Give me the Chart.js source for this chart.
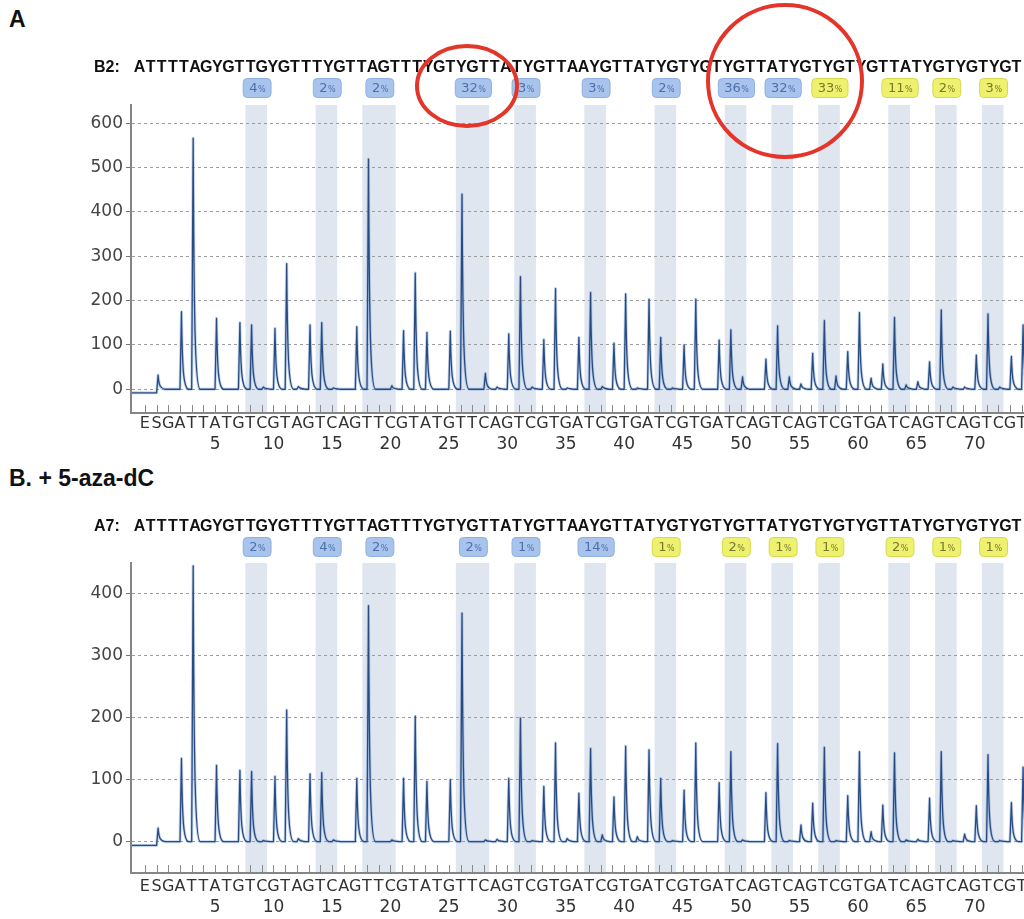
<!DOCTYPE html>
<html>
<head>
<meta charset="utf-8">
<script src="https://cdn.jsdelivr.net/npm/chart.js@4.4.0/dist/chart.umd.min.js"></script>
<style>
  html, body { margin: 0; padding: 0; background: #fff; overflow: hidden; }
  body { width: 1024px; height: 919px; position: relative; }
  .panel-title { position: absolute; left: 9px; font: bold 23px 'Liberation Sans', Arial, sans-serif; color: #111; }
  canvas { position: absolute; left: 0; }
</style>
</head>
<body>
<div class="panel-title" style="top:6px">A</div>
<div class="panel-title" style="top:465px">B. + 5-aza-dC</div>
<canvas id="chartA" width="1060" height="460" style="top:0"></canvas>
<canvas id="chartB" width="1060" height="459" style="top:460px"></canvas>
<script>
// dispensation order (E, S, then nucleotides 1..74)
const DISPENSATION = ('ESGATTATGTCG' + 'TAGTCAGTTCGT' + 'ATGTTCAGTCGT' + 'GATCGTGATCGT' +
  'GATCAGTCAGTC' + 'GTGATCAGTCAG' + 'TCGT').split('');
// sequence to analyze
const SEQUENCE = ['ATTTTAGYG', 'TTGYG', 'TTTYG', 'TTAG', 'TTTYG', 'TYG', 'TTATYG', 'TTAAYG',
  'TTATYG', 'TYGTYG', 'TTATYG', 'TYGTYG', 'TTATYG', 'TYGTYGT'].join('');

// peak height per dispensation
const peaksA = [
  0, 32, 0, 175, 566, 0, 160, 0, 150, 145,
  5, 137, 283, 6, 145, 150, 3, 0, 141, 519,
  0, 8, 132, 262, 128, 0, 131, 440, 0, 36,
  5, 125, 254, 5, 112, 227, 3, 117, 218, 6,
  104, 215, 3, 203, 117, 3, 100, 203, 0, 111,
  134, 28, 0, 68, 143, 28, 12, 81, 155, 30,
  85, 173, 25, 57, 162, 10, 17, 62, 179, 5,
  5, 77, 170, 5, 74, 145
];
const peaksB = [
  0, 22, 0, 134, 444, 0, 123, 0, 115, 113,
  2, 105, 212, 5, 109, 111, 3, 0, 102, 380,
  0, 3, 102, 202, 97, 0, 100, 368, 0, 3,
  4, 102, 199, 2, 89, 159, 5, 78, 150, 11,
  72, 154, 8, 148, 102, 2, 83, 159, 0, 95,
  145, 3, 0, 79, 158, 2, 27, 62, 152, 2,
  74, 145, 16, 59, 143, 3, 4, 70, 145, 2,
  12, 58, 140, 2, 63, 120
];

const yTicksA = [0, 100, 200, 300, 400, 500, 600];
const yTicksB = [0, 100, 200, 300, 400];

// CpG sites: first / last dispensation of each shaded column
const siteStart = [10, 16, 20, 28, 33, 39, 45, 51, 55, 59, 65, 69, 73];
const siteEnd   = [11, 17, 22, 30, 34, 40, 46, 52, 56, 60, 66, 70, 74];
// methylation % per site, and which ones are flagged yellow
const methA = [4, 2, 2, 32, 3, 3, 2, 36, 32, 33, 11, 2, 3];
const methB = [2, 4, 2, 2, 1, 14, 1, 2, 1, 1, 2, 1, 1];
const flagA = [0, 0, 0, 0, 0, 0, 0, 0, 0, 1, 1, 1, 1];
const flagB = [0, 0, 0, 0, 0, 0, 1, 1, 1, 1, 1, 1, 1];

const X_MIN = -0.19;
const X_MAX = 78.43;

const pyroPlugin = {
  id: 'pyro',
  beforeDraw(chart, args, o) {
    const {ctx, chartArea: a, scales: {x}} = chart;
    ctx.save();
    ctx.fillStyle = '#dfe6ef';
    siteStart.forEach((s, i) => {
      const l = x.getPixelForValue(s - 0.4);
      const r = x.getPixelForValue(siteEnd[i] + 0.45);
      ctx.fillRect(l, a.top, r - l, a.bottom - a.top);
    });
    ctx.restore();
  },
  afterDatasetsDraw(chart, args, o) {
    const {ctx, chartArea: a, scales: {x, y}} = chart;
    const meta = chart.getDatasetMeta(0);
    const zero = y.getPixelForValue(0);
    let base = y.getPixelForValue(o.startLevel);

    ctx.save();
    ctx.beginPath();
    ctx.rect(a.left, a.top, a.right - a.left, a.bottom - a.top);
    ctx.clip();
    ctx.beginPath();
    ctx.moveTo(a.left + 1, base);
    meta.data.forEach(pt => {
      const px = pt.x + 1.5, py = pt.y;
      if (zero - py < 0.5) return;
      ctx.lineTo(px - 1.5, base);
      base = zero;
      ctx.lineTo(px, py);
      ctx.bezierCurveTo(px + 0.8, py + (zero - py) * 0.75, px + 2, zero - 1, px + 7, zero);
    });
    ctx.lineTo(a.right, zero);
    ctx.lineJoin = 'round';
    ctx.strokeStyle = 'rgba(120,160,215,0.45)';
    ctx.lineWidth = 3;
    ctx.stroke();
    ctx.strokeStyle = '#294b80';
    ctx.lineWidth = 1.3;
    ctx.stroke();
    ctx.restore();

    // small inward tick marks on the x axis
    ctx.save();
    ctx.strokeStyle = '#8a8a8a';
    ctx.lineWidth = 1;
    ctx.beginPath();
    for (let v = 1; v <= DISPENSATION.length + 2; v++) {
      const px = Math.round(x.getPixelForValue(v)) + 0.5;
      ctx.moveTo(px, a.bottom - 8);
      ctx.lineTo(px, a.bottom - 1);
    }
    ctx.stroke();
    ctx.restore();
  },
  afterDraw(chart, args, o) {
    const {ctx, scales: {x}} = chart;
    ctx.save();
    // sequence line
    ctx.font = 'bold 16px "Liberation Sans", Arial, sans-serif';
    ctx.fillStyle = '#111';
    ctx.textBaseline = 'middle';
    ctx.textAlign = 'left';
    ctx.fillText(o.label, 94, o.seqY);
    ctx.textAlign = 'center';
    const pitch = (1022 - 134) / SEQUENCE.length;
    SEQUENCE.split('').forEach((c, i) => ctx.fillText(c, 134 + pitch * (i + 0.5), o.seqY));

    // methylation badges
    siteStart.forEach((s, i) => {
      const cx = x.getPixelForValue((s + siteEnd[i]) / 2 + 0.1);
      const num = String(o.meth[i]);
      ctx.font = '13px "DejaVu Sans"';
      const wn = ctx.measureText(num).width;
      ctx.font = '8px "DejaVu Sans"';
      const wp = ctx.measureText('%').width;
      const w = wn + wp + 12, h = 19;
      const left = cx - w / 2, top = o.badgeY - h / 2;
      const yellow = o.flag[i] === 1;
      ctx.beginPath();
      ctx.roundRect(left, top, w, h, 4);
      ctx.fillStyle = yellow ? '#eef16e' : '#a9c4ec';
      ctx.fill();
      ctx.strokeStyle = yellow ? '#d6d94c' : '#8fb0e0';
      ctx.lineWidth = 1;
      ctx.stroke();
      ctx.fillStyle = yellow ? '#77772e' : '#4c70ab';
      ctx.textAlign = 'left';
      ctx.font = '13px "DejaVu Sans"';
      ctx.fillText(num, left + 6, o.badgeY + 0.5);
      ctx.font = '8px "DejaVu Sans"';
      ctx.fillText('%', left + 6 + wn + 0.5, o.badgeY + 1.5);
    });

    // red highlight circles
    ctx.strokeStyle = '#e4352a';
    ctx.lineWidth = 4;
    (o.circles || []).forEach(c => {
      ctx.beginPath();
      ctx.ellipse(c.cx, c.cy, c.rx, c.ry, 0, 0, Math.PI * 2);
      ctx.stroke();
    });
    ctx.restore();
  }
};

function makeChart(id, peaks, yTicks, o) {
  return new Chart(document.getElementById(id), {
    type: 'scatter',
    data: {
      datasets: [{
        data: peaks.map((h, i) => ({x: i + 1, y: h})),
        pointRadius: 0,
        pointHoverRadius: 0,
        showLine: false
      }]
    },
    options: {
      responsive: false,
      animation: false,
      events: [],
      layout: {padding: {top: o.top, left: 0, right: 10, bottom: 0}},
      plugins: {
        legend: {display: false},
        tooltip: {enabled: false},
        pyro: o.pyro
      },
      scales: {
        x: {
          type: 'linear', position: 'bottom', weight: 0,
          min: X_MIN, max: X_MAX,
          afterFit: s => { s.height = o.letterH; },
          grid: {display: false},
          border: {display: true, color: '#858585', width: 2},
          ticks: {
            stepSize: 1, autoSkip: false, maxRotation: 0, minRotation: 0, includeBounds: false,
            padding: o.letterPad, color: '#333', font: {family: 'DejaVu Sans', size: 16},
            callback: v => DISPENSATION[v - 1] || ''
          }
        },
        xn: {
          type: 'linear', position: 'bottom', weight: 1,
          min: X_MIN, max: X_MAX,
          afterFit: s => { s.height = o.numberH; },
          grid: {display: false},
          border: {display: false},
          ticks: {
            stepSize: 1, autoSkip: false, maxRotation: 0, minRotation: 0, includeBounds: false,
            padding: o.numberPad, color: '#333', font: {family: 'DejaVu Sans', size: 17},
            callback: v => (v > 2 && v <= DISPENSATION.length && (v - 2) % 5 === 0) ? String(v - 2) : ''
          }
        },
        y: {
          min: o.yMin, max: o.yMax,
          afterFit: s => { s.width = 131; },
          afterBuildTicks: s => { s.ticks = yTicks.map(v => ({value: v})); },
          border: {display: true, color: '#858585', width: 2, dash: [3, 3]},
          grid: {color: '#9c9c9c', lineWidth: 1, tickLength: 5, tickColor: '#777', tickBorderDash: []},
          ticks: {padding: 3, color: '#444', font: {family: 'DejaVu Sans', size: 17}}
        }
      }
    },
    plugins: [pyroPlugin]
  });
}

makeChart('chartA', peaksA, yTicksA, {
  top: 105, yMin: -53.5, yMax: 641,
  letterH: 21, letterPad: -7, numberH: 26, numberPad: -8,
  pyro: {
    label: 'B2:', seqY: 68, badgeY: 88, startLevel: -8,
    meth: methA, flag: flagA,
    circles: [{cx: 467, cy: 86, rx: 50, ry: 40}, {cx: 785, cy: 81, rx: 77, ry: 76}]
  }
});

makeChart('chartB', peaksB, yTicksB, {
  top: 103, yMin: -50.4, yMax: 448.8,
  letterH: 22, letterPad: -4, numberH: 24, numberPad: -6,
  pyro: {
    label: 'A7:', seqY: 67, badgeY: 87, startLevel: -6,
    meth: methB, flag: flagB
  }
});
</script>
</body>
</html>
